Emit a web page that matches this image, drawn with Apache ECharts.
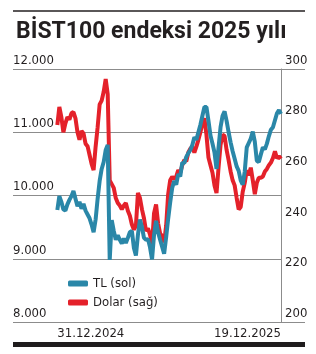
<!DOCTYPE html>
<html>
<head>
<meta charset="utf-8">
<script src="https://cdn.jsdelivr.net/npm/echarts@6/dist/echarts.min.js"></script>
<style>
html,body{margin:0;padding:0;background:#fff;}
#c{width:316px;height:354px;}
</style>
</head>
<body>
<div id="c"></div>
<script>
var tlValues = [9770,9990,9900,9780,9760,9860,9930,9990,10070,9950,9830,9900,9790,9870,9760,9700,9640,9540,9420,9620,9950,10230,10420,10530,10720,10800,8980,9610,9440,9300,9370,9300,9240,9320,9250,9330,9420,9440,9170,9050,9380,9620,9500,9330,9300,9310,9180,8990,9380,9600,9420,9300,9190,9080,9340,9630,9890,10120,10230,10170,10340,10300,10520,10510,10610,10670,10720,10800,10920,10880,11000,11120,11260,11400,11400,11180,10950,10820,10680,10420,10760,11080,11260,11330,11180,11000,10840,10700,10580,10460,10390,10240,10170,10380,10760,10830,10900,11010,10850,10550,10530,10650,10760,10730,10820,10940,11040,11080,11190,11300,11350,11290];
var usdValues = [277.9,285,281,275,278.5,281,280,282.5,283,280.5,275,272,275.5,274.5,270.5,269.5,266,262.5,260,269.3,277,286,287.5,291,296,290,256,254.5,253,249,247,246,244.5,246,247,244,242,238.5,236.5,238,251,249,244.5,241,236,237,234.5,230.5,243,246.5,239,235,234,231.5,238,250.5,256,257.4,256.5,257.5,260,259,262,264,263.5,267,268.5,269.3,267,269.3,272,275,278.5,280.5,274,265,262,259,254,251,261,270,274,273.5,268,264,259.5,256,254,249,244.5,245.5,251.5,255,260,258,261,256,250.5,255,257,257,257.5,259.5,260.5,262,263,264.8,267.5,264.7,265.5,264.5];
var xTickLabels = ['31.12.2024', '19.12.2025'];
var leftTicks = [8000, 9000, 10000, 11000, 12000];
var rightTicks = [200, 220, 240, 260, 280, 300];
var seriesNames = ['TL (sol)', 'Dolar (sağ)'];

var narrow = '"Liberation Sans Narrow","DejaVu Sans Condensed",sans-serif';
var lastIdx = tlValues.length - 1;
var chart = echarts.init(document.getElementById('c'), null, {renderer: 'canvas', width: 316, height: 354});

function dotThousands(v){ return String(v).replace(/\B(?=(\d{3})+(?!\d))/g, '.'); }

chart.setOption({
  animation: false,
  backgroundColor: '#fff',
  title: {
    text: 'BİST100 endeksi 2025 yılı',
    left: 11, top: 16,
    textStyle: {fontFamily: 'Roboto', fontWeight: 'bold', fontSize: 23, color: '#231f20'}
  },
  legend: {
    orient: 'vertical', left: 63, top: 272,
    itemWidth: 20, itemHeight: 6, itemGap: 6,
    icon: 'roundRect',
    data: seriesNames,
    textStyle: {fontFamily: narrow, fontSize: 13, color: '#231f20'}
  },
  grid: {left: 13, right: 35, top: 69, bottom: 32, containLabel: false},
  xAxis: {
    type: 'value', min: -22, max: lastIdx,
    axisLine: {show: false}, axisTick: {show: false}, splitLine: {show: false},
    axisLabel: {
      customValues: [0, lastIdx],
      formatter: function(v){ return v === 0 ? xTickLabels[0] : xTickLabels[1]; },
      alignMinLabel: 'left', alignMaxLabel: 'right',
      margin: 5, fontFamily: narrow, fontSize: 13, color: '#231f20'
    }
  },
  yAxis: [{
    type: 'value', position: 'left', min: leftTicks[0], max: leftTicks[leftTicks.length-1], interval: 1000,
    axisLine: {show: false}, axisTick: {show: false},
    splitLine: {show: true, lineStyle: {color: '#8c8c8c', width: 1}},
    axisLabel: {inside: true, margin: 0, align: 'left', verticalAlign: 'bottom', padding: [0,0,2,0],
      formatter: dotThousands, fontFamily: narrow, fontSize: 13, color: '#231f20'}
  }, {
    type: 'value', position: 'right', min: rightTicks[0], max: rightTicks[rightTicks.length-1], interval: 20,
    axisLine: {show: true, lineStyle: {color: '#8c8c8c', width: 1}}, axisTick: {show: false},
    splitLine: {show: false},
    axisLabel: {margin: 4, align: 'left', verticalAlign: 'bottom', padding: [0,0,2,0],
      fontFamily: narrow, fontSize: 13, color: '#231f20'}
  }],
  graphic: [
    {type: 'line', shape: {x1: 13, y1: 11, x2: 305, y2: 11}, style: {stroke: '#231f20', lineWidth: 1.5}},
    {type: 'line', shape: {x1: 281, y1: 69.5, x2: 305, y2: 69.5}, style: {stroke: '#8c8c8c', lineWidth: 1}},
    {type: 'line', shape: {x1: 281, y1: 322.5, x2: 305, y2: 322.5}, style: {stroke: '#8c8c8c', lineWidth: 1}},
    {type: 'rect', shape: {x: 13, y: 342, width: 292, height: 5}, style: {fill: '#1f1c1d'}}
  ],
  series: [{
    name: seriesNames[1], type: 'line', yAxisIndex: 1, showSymbol: false,
    itemStyle: {color: '#e4212a'}, lineStyle: {width: 4, color: '#e4212a'},
    data: usdValues.map(function(v, i){ return [i, v]; })
  }, {
    name: seriesNames[0], type: 'line', yAxisIndex: 0, showSymbol: false,
    itemStyle: {color: '#2a87a8'}, lineStyle: {width: 4, color: '#2a87a8'},
    data: tlValues.map(function(v, i){ return [i, v]; })
  }]
});
</script>
</body>
</html>
